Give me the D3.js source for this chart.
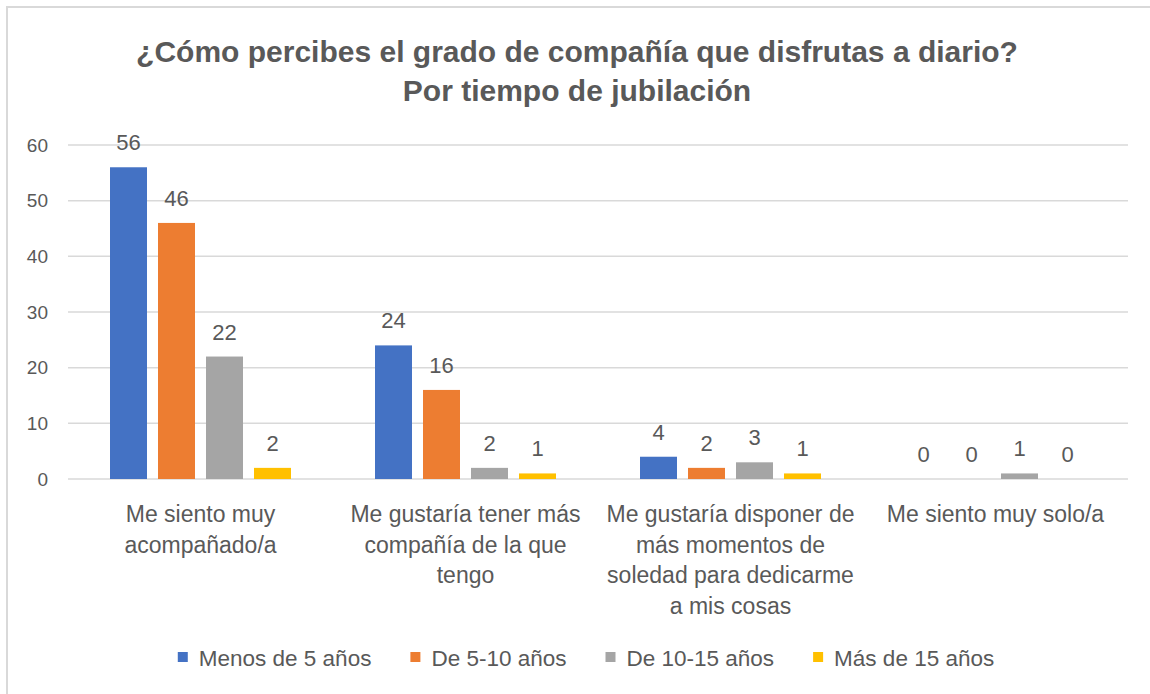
<!DOCTYPE html>
<html>
<head>
    <meta charset="utf-8">
    <title>Grado de compañía</title>
    <script src="https://d3js.org/d3.v7.min.js"></script>
    <style>
        body { margin: 0; background: #fff; }
        text { font-family: "Liberation Sans", Arial, sans-serif; fill: #595959; }
    </style>
</head>
<body>
<script type="text/javascript">
    const w = 1150;
    const h = 694;

    // data
    const categories = [
        ['Me siento muy', 'acompañado/a'],
        ['Me gustaría tener más', 'compañía de la que', 'tengo'],
        ['Me gustaría disponer de', 'más momentos de', 'soledad para dedicarme', 'a mis cosas'],
        ['Me siento muy solo/a']
    ];
    const seriesNames = ['Menos de 5 años', 'De 5-10 años', 'De 10-15 años', 'Más de 15 años'];
    const menos5 = [56, 24, 4, 0];
    const de5a10 = [46, 16, 2, 0];
    const de10a15 = [22, 2, 3, 1];
    const mas15 = [2, 1, 1, 0];
    const yTicks = [0, 10, 20, 30, 40, 50, 60];
    const colors = ['#4472C4', '#ED7D31', '#A5A5A5', '#FFC000'];
    const titleLines = ['¿Cómo percibes el grado de compañía que disfrutas a diario?', 'Por tiempo de jubilación'];

    const series = [menos5, de5a10, de10a15, mas15];

    const svg = d3.select('body').append('svg').attr('width', w).attr('height', h);

    // chart frame (only top and left edges visible)
    svg.append('rect')
        .attr('x', 7).attr('y', 7)
        .attr('width', 1300).attr('height', 900)
        .attr('fill', 'none')
        .attr('stroke', '#d9d9d9')
        .attr('stroke-width', 2);

    svg.selectAll('.title')
        .data(titleLines)
        .enter()
        .append('text')
        .attr('class', 'title')
        .attr('x', 577)
        .attr('y', (d, i) => 62 + i * 39)
        .attr('text-anchor', 'middle')
        .attr('font-size', '30px')
        .attr('font-weight', 'bold')
        .text(d => d);

    const left = 68, right = 1128;

    const yScale = d3.scaleLinear()
        .domain([0, 60])
        .range([479, 145]);

    const x0 = d3.scaleBand()
        .domain(d3.range(categories.length))
        .range([left, right]);

    const x1 = d3.scaleBand()
        .domain(d3.range(series.length))
        .range([0, 192])
        .paddingInner(11 / 48)
        .paddingOuter(5.5 / 48);

    const groupOffset = (x0.bandwidth() - 192) / 2;

    // gridlines
    svg.selectAll('.grid')
        .data(yTicks)
        .enter()
        .append('line')
        .attr('x1', left).attr('x2', right)
        .attr('y1', d => yScale(d)).attr('y2', d => yScale(d))
        .attr('stroke', '#d9d9d9')
        .attr('stroke-width', 1.5);

    const yAxis = d3.axisLeft(yScale).tickValues(yTicks).tickSize(0).tickPadding(0);
    const ga = svg.append('g').attr('transform', 'translate(48,0)').call(yAxis);
    ga.select('.domain').remove();
    ga.selectAll('text')
        .attr('font-size', '19px')
        .attr('font-family', '"Liberation Sans", Arial, sans-serif')
        .attr('fill', '#595959');

    const groups = svg.selectAll('.grp')
        .data(categories)
        .enter()
        .append('g')
        .attr('transform', (d, i) => 'translate(' + (x0(i) + groupOffset) + ',0)');

    groups.each(function (c, ci) {
        const g = d3.select(this);
        series.forEach((s, si) => {
            const v = s[ci];
            g.append('rect')
                .attr('x', x1(si))
                .attr('y', yScale(v))
                .attr('width', x1.bandwidth())
                .attr('height', yScale(0) - yScale(v))
                .attr('fill', colors[si]);
            g.append('text')
                .attr('x', x1(si) + x1.bandwidth() / 2)
                .attr('y', yScale(v) - 17)
                .attr('text-anchor', 'middle')
                .attr('font-size', '22px')
                .text(v);
        });
    });

    // category labels
    categories.forEach((lines, ci) => {
        svg.append('text')
            .attr('x', x0(ci) + x0.bandwidth() / 2)
            .attr('y', 522)
            .attr('text-anchor', 'middle')
            .attr('font-size', '23px')
            .selectAll('tspan')
            .data(lines)
            .enter()
            .append('tspan')
            .attr('x', x0(ci) + x0.bandwidth() / 2)
            .attr('dy', (d, i) => i === 0 ? 0 : 30.5)
            .text(d => d);
    });

    // legend
    const legend = svg.append('g');
    let lx = 0;
    seriesNames.forEach((name, i) => {
        const item = legend.append('g').attr('transform', 'translate(' + lx + ',0)');
        item.append('rect')
            .attr('x', 0).attr('y', 652)
            .attr('width', 10).attr('height', 10)
            .attr('fill', colors[i]);
        const t = item.append('text')
            .attr('x', 21).attr('y', 666)
            .attr('font-size', '22.5px')
            .text(name);
        lx += 21 + t.node().getComputedTextLength() + 39;
    });
    const legendWidth = lx - 39;
    legend.attr('transform', 'translate(' + (586 - legendWidth / 2) + ',0)');
</script>
</body>
</html>
